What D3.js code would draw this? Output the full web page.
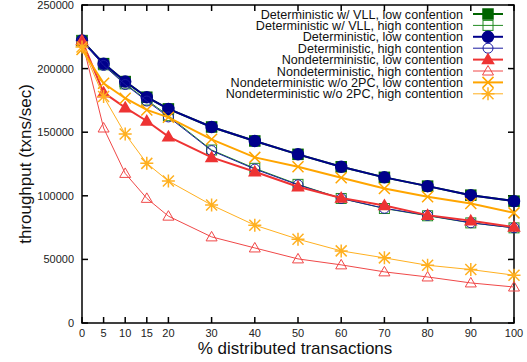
<!DOCTYPE html>
<html>
<head>
<meta charset="utf-8">
<script src="https://cdn.jsdelivr.net/npm/d3@7"></script>
<style>
  body { margin: 0; background: #fff; }
  svg { font-family: "Liberation Sans", Arial, sans-serif; }
</style>
</head>
<body>
<script>
const pct = [0, 5, 10, 15, 20, 30, 40, 50, 60, 70, 80, 90, 100];

const vllLow   = [222000, 203900, 189800, 177500, 168300, 154100, 143100, 132600, 122800, 114500, 107600, 100500, 95800];
const vllHigh  = [222000, 203000, 188000, 175300, 163000, 136000, 121600, 109000, 97900, 90000, 84300, 78700, 74800];
const detLow   = [222000, 203900, 189800, 177500, 168300, 154100, 143100, 132600, 122800, 114500, 107600, 100500, 95800];
const detHigh  = [222000, 202500, 187500, 174500, 162000, 135500, 121000, 108600, 97900, 90200, 84600, 78800, 74800];
const ndLow    = [222000, 181100, 169300, 158800, 146500, 130200, 118900, 107100, 98200, 92400, 84800, 80300, 75400];
const ndHigh   = [222000, 153300, 117600, 98000, 84000, 67700, 59000, 50400, 45700, 40200, 36200, 31500, 28300];
const no2pcLow = [215000, 188500, 176700, 167500, 161700, 144400, 130200, 122800, 114200, 105800, 99200, 94000, 86600];
const no2pcHigh= [217000, 178000, 148600, 125500, 111600, 92700, 76900, 65900, 56700, 51200, 45400, 42000, 37600];

const yTicks = [0, 50000, 100000, 150000, 200000, 250000];

const series = [
  {name: "Deterministic w/ VLL, low contention", values: vllLow, color: "#006400", w: 2, sym: "square", fill: true},
  {name: "Deterministic w/ VLL, high contention", values: vllHigh, color: "#228b22", w: 1, sym: "square", fill: false},
  {name: "Deterministic, low contention", values: detLow, color: "#00008b", w: 2, sym: "circle", fill: true},
  {name: "Deterministic, high contention", values: detHigh, color: "#1a1aa0", w: 1, sym: "circle", fill: false},
  {name: "Nondeterministic, low contention", values: ndLow, color: "#ee3333", w: 2, sym: "triangle", fill: true},
  {name: "Nondeterministic, high contention", values: ndHigh, color: "#f04848", w: 1, sym: "triangle", fill: false},
  {name: "Nondeterministic w/o 2PC, low contention", values: no2pcLow, color: "#ffa500", w: 2, sym: "cross", fill: false},
  {name: "Nondeterministic w/o 2PC, high contention", values: no2pcHigh, color: "#ffb020", w: 1, sym: "star", fill: false}
];

const width = 527, height = 362;
const margin = {top: 5, right: 13, bottom: 39, left: 82};

const x = d3.scaleLinear([0, 100], [margin.left, width - margin.right]);
const y = d3.scaleLinear([0, 250000], [height - margin.bottom, margin.top]);

const svg = d3.select("body").append("svg")
    .attr("width", width)
    .attr("height", height);

function marker(g, s, cx, cy) {
  const sw = s.w === 2 ? 1.5 : 1;
  if (s.sym === "square") {
    g.append("rect").attr("x", cx - 5).attr("y", cy - 5).attr("width", 10).attr("height", 10)
      .attr("fill", s.fill ? s.color : "none").attr("stroke", s.color).attr("stroke-width", sw);
  } else if (s.sym === "circle") {
    g.append("circle").attr("cx", cx).attr("cy", cy).attr("r", s.fill ? 5.5 : 5)
      .attr("fill", s.fill ? s.color : "none").attr("stroke", s.color).attr("stroke-width", sw);
  } else if (s.sym === "triangle") {
    g.append("path").attr("d", `M${cx},${cy - 5.5}L${cx + 5.5},${cy + 4}L${cx - 5.5},${cy + 4}Z`)
      .attr("fill", s.fill ? s.color : "none").attr("stroke", s.color).attr("stroke-width", sw);
  } else {
    const r = 5.5;
    let d = `M${cx - r},${cy - r}L${cx + r},${cy + r}M${cx - r},${cy + r}L${cx + r},${cy - r}`;
    if (s.sym === "star") d += `M${cx},${cy - r - 1}L${cx},${cy + r + 1}M${cx - r - 1},${cy}L${cx + r + 1},${cy}`;
    g.append("path").attr("d", d).attr("fill", "none").attr("stroke", s.color).attr("stroke-width", 1.5);
  }
}

// frame with inward ticks on all sides
const axes = svg.append("g").attr("stroke", "#000").attr("stroke-width", 1.5);
axes.append("rect")
    .attr("x", margin.left).attr("y", margin.top)
    .attr("width", width - margin.left - margin.right)
    .attr("height", height - margin.top - margin.bottom)
    .attr("fill", "none");
pct.forEach(v => {
  axes.append("line").attr("x1", x(v)).attr("x2", x(v)).attr("y1", y(0)).attr("y2", y(0) - 6);
  axes.append("line").attr("x1", x(v)).attr("x2", x(v)).attr("y1", y(250000)).attr("y2", y(250000) + 6);
});
yTicks.forEach(v => {
  axes.append("line").attr("x1", x(0)).attr("x2", x(0) + 6).attr("y1", y(v)).attr("y2", y(v));
  axes.append("line").attr("x1", x(100)).attr("x2", x(100) - 6).attr("y1", y(v)).attr("y2", y(v));
});

svg.append("g")
  .selectAll("text")
  .data(pct)
  .join("text")
    .attr("x", d => x(d))
    .attr("y", y(0) + 14)
    .attr("text-anchor", "middle")
    .attr("font-size", 11)
    .attr("fill", "#222")
    .text(d => d);

svg.append("g")
  .selectAll("text")
  .data(yTicks)
  .join("text")
    .attr("x", margin.left - 8)
    .attr("y", d => y(d) + 4)
    .attr("text-anchor", "end")
    .attr("font-size", 11)
    .attr("fill", "#222")
    .text(d => d);

svg.append("text")
    .attr("x", 295)
    .attr("y", 354)
    .attr("text-anchor", "middle")
    .attr("font-size", 17)
    .attr("fill", "#111")
    .text("% distributed transactions");

svg.append("text")
    .attr("transform", `translate(31,${(margin.top + height - margin.bottom) / 2}) rotate(-90)`)
    .attr("text-anchor", "middle")
    .attr("font-size", 17)
    .attr("fill", "#111")
    .text("throughput (txns/sec)");

// series
const line = d3.line().x((d, i) => x(pct[i])).y(d => y(d));
series.forEach(s => {
  const g = svg.append("g");
  g.append("path")
    .attr("d", line(s.values))
    .attr("fill", "none")
    .attr("stroke", s.color)
    .attr("stroke-width", s.w);
  s.values.forEach((v, i) => marker(g, s, x(pct[i]), y(v)));
});

// legend
const legend = svg.append("g");
series.forEach((s, i) => {
  const ly = 14 + i * 11.4;
  legend.append("text")
    .attr("x", 463).attr("y", ly + 4.5)
    .attr("text-anchor", "end")
    .attr("font-size", 12.6)
    .attr("fill", "#111")
    .text(s.name);
  legend.append("line")
    .attr("x1", 473).attr("x2", 503).attr("y1", ly).attr("y2", ly)
    .attr("stroke", s.color).attr("stroke-width", s.w);
  marker(legend, s, 488, ly);
});
</script>
</body>
</html>
